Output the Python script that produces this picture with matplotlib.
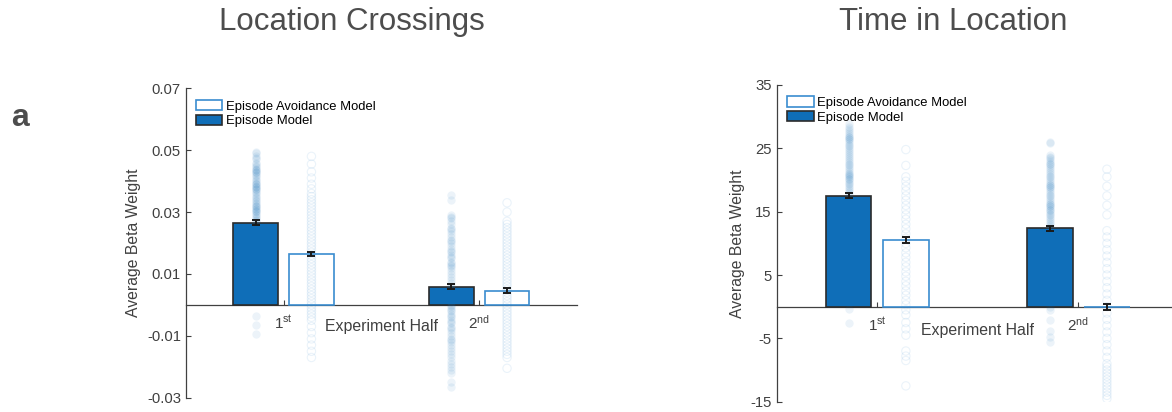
import numpy as np
import matplotlib
matplotlib.use('Agg')
import matplotlib.pyplot as plt

plt.rcParams['font.family'] = ['Liberation Sans', 'DejaVu Sans']
plt.rcParams['mathtext.fontset'] = 'custom'
plt.rcParams['mathtext.rm'] = 'Liberation Sans'

# group positions and labels
halves = [1, 2]
half_labels = [r'$\mathregular{1^{st}}$', r'$\mathregular{2^{nd}}$']

# Location Crossings: bar means and sem
lc_episode = [0.0266, 0.0059]
lc_avoid = [0.0164, 0.0046]
lc_episode_err = [0.0007, 0.0007]
lc_avoid_err = [0.0007, 0.0007]

# Time in Location: bar means and sem
tl_episode = [17.5, 12.35]
tl_avoid = [10.55, -0.1]
tl_episode_err = [0.4, 0.45]
tl_avoid_err = [0.45, 0.5]

# subject betas, Location Crossings
lc_ep1 = [0.0495, 0.049, 0.048, 0.0475, 0.047, 0.046, 0.0455, 0.045, 0.0445, 0.044, 0.0435,
          0.043, 0.0425, 0.042, 0.0415, 0.041, 0.0405, 0.040, 0.0395, 0.039, 0.0385, 0.038,
          0.0375, 0.037, 0.0365, 0.036, 0.0355, 0.035, 0.0345, 0.034, 0.0335, 0.033, 0.0325,
          0.032, 0.0315, 0.031, 0.0305, 0.030, 0.0295, 0.029, 0.0285, 0.028, 0.0275, 0.027,
          0.039, 0.038, 0.0375, 0.032, 0.031, 0.0305, 0.0435, 0.043,
          0.024, 0.021, 0.018, 0.015, 0.012, 0.009, 0.006, 0.003, -0.0035, -0.0065, -0.0095]
lc_av1 = [0.048, 0.0455, 0.043, 0.041, 0.039, 0.0375, 0.036, 0.035, 0.034, 0.033, 0.032, 0.031,
          0.030, 0.029, 0.028, 0.027, 0.026, 0.025, 0.024, 0.023, 0.022, 0.021, 0.020, 0.019,
          0.018, 0.017, 0.016, 0.015, 0.014, 0.013, 0.012, 0.011, 0.010, 0.009, 0.008, 0.007,
          0.006, 0.005, 0.004, 0.003, 0.002, 0.001, 0.000, -0.001, -0.002, -0.003, -0.004,
          -0.005, -0.007, -0.009, -0.011, -0.013, -0.015, -0.017]
lc_ep2 = [0.0355, 0.034, 0.029, 0.0285, 0.028, 0.027, 0.026, 0.025, 0.0245, 0.024, 0.023,
          0.022, 0.021, 0.0205, 0.020, 0.019, 0.018, 0.0175, 0.017, 0.016, 0.0155, 0.015,
          0.014, 0.0135, 0.013, 0.0125, 0.012, 0.011, 0.010, 0.009, 0.008, 0.007, 0.006,
          0.005, 0.004, 0.003, 0.002, 0.001, 0.000, -0.0005, -0.001, -0.0015, -0.002, -0.003,
          -0.0035, -0.004, -0.005, -0.0055, -0.006, -0.007, -0.0075, -0.008, -0.009, -0.010,
          -0.011, -0.0115, -0.012, -0.013, -0.014, -0.015, -0.016, -0.017, -0.018, -0.019,
          -0.020, -0.021, -0.022, -0.025, -0.0265]
lc_av2 = [0.033, 0.030, 0.027, 0.026, 0.025, 0.024, 0.023, 0.022, 0.021, 0.020, 0.019, 0.018,
          0.017, 0.016, 0.015, 0.014, 0.013, 0.012, 0.011, 0.010, 0.009, 0.008, 0.007, 0.006,
          0.005, 0.004, 0.003, 0.002, 0.001, 0.000, -0.001, -0.002, -0.003, -0.004, -0.005,
          -0.006, -0.007, -0.008, -0.009, -0.010, -0.011, -0.012, -0.013, -0.014, -0.015,
          -0.016, -0.017, -0.0205]

# subject betas, Time in Location
tl_ep1 = [28.8, 28.4, 28.0, 27.7, 27.4, 27.1, 26.8, 26.5, 26.2, 25.9, 25.6, 25.3, 25.0, 24.7,
          24.4, 24.1, 23.8, 23.5, 23.2, 22.9, 22.6, 22.3, 22.0, 21.7, 21.4, 21.1, 20.8, 20.5,
          20.2, 19.9, 19.6, 19.3, 19.0, 18.7, 18.4, 18.1, 17.8, 26.8, 26.5, 21.0, 20.6, 20.2,
          16.5, 15.0, 13.0, 11.0, 9.0, 7.0, 5.0, 3.0, 1.0, -0.3, -2.6]
tl_av1 = [24.8, 22.3, 20.5, 19.8, 19.0, 18.3, 17.5, 16.8, 16.0, 15.3, 14.5, 13.8, 13.0, 12.3,
          11.5, 10.8, 10.0, 9.3, 8.5, 7.8, 7.0, 6.3, 5.5, 4.8, 4.0, 3.3, 2.5, 1.8, 1.0, 0.3,
          -0.5, -1.3, -2.5, -3.5, -4.5, -7.0, -7.8, -8.5, -12.5]
tl_ep2 = [26.0, 25.8, 24.0, 23.7, 23.4, 23.1, 22.8, 22.5, 22.2, 21.9, 21.6, 21.3, 21.0, 20.7,
          20.4, 20.1, 19.8, 19.5, 19.2, 18.9, 18.6, 18.3, 18.0, 17.7, 17.4, 17.1, 16.8, 16.5,
          16.2, 15.9, 15.6, 15.3, 15.0, 14.7, 14.4, 14.1, 13.8, 13.5, 13.2, 12.9, 12.6,
          19.2, 18.9, 16.2, 15.9, 15.3, 22.5,
          10.0, 8.0, 6.0, 4.0, 2.0, 0.0, -0.5, -2.1, -3.8, -4.8, -5.5]
tl_av2 = [21.7, 20.5, 19.0, 17.5, 16.0, 14.5, 12.0, 11.0, 10.0, 9.0, 8.0, 7.0, 6.0, 5.0, 4.0,
          3.0, 2.0, 1.0, 0.0, -1.0, -2.0, -3.0, -4.0, -5.0, -6.0, -7.0, -8.0, -9.0, -9.5,
          -10.0, -10.5, -11.0, -11.5, -12.0, -12.5, -13.0, -13.5, -14.0, -14.5]

lc_ticks = [-0.03, -0.01, 0.01, 0.03, 0.05, 0.07]
lc_ticklabels = ['-0.03', '-0.01', '0.01', '0.03', '0.05', '0.07']
tl_ticks = [-15, -5, 5, 15, 25, 35]
tl_ticklabels = ['-15', '-5', '5', '15', '25', '35']

blue = '#0f6eb8'
light_edge = '#3a8cd0'
grey = '#404040'
offset = 0.1425
width = 0.228


def panel(ax, ep, av, ep_err, av_err, ep_pts, av_pts, ylim, ticks, ticklabels, xlab_y, leg_y):
    x = np.array(halves, dtype=float)
    b1 = ax.bar(x - offset, ep, width, color=blue, edgecolor='#2b2b2b', linewidth=1.2,
                zorder=3, label='Episode Model')
    b2 = ax.bar(x + offset, av, width, color='white', edgecolor=light_edge, linewidth=1.2,
                zorder=3, label='Episode Avoidance Model')
    # individual subjects
    for xi, pts in zip(x - offset, ep_pts):
        ax.scatter(np.full(len(pts), xi), pts, s=36, color=blue, alpha=0.08,
                   linewidths=0, zorder=4)
    for xi, pts in zip(x + offset, av_pts):
        ax.scatter(np.full(len(pts), xi), pts, s=36, facecolors='none',
                   edgecolors=light_edge, alpha=0.1, linewidths=0.8, zorder=4)
    ax.errorbar(x - offset, ep, yerr=ep_err, fmt='none', ecolor='#1a1a1a',
                elinewidth=1.4, capsize=2.6, capthick=1.4, zorder=5)
    ax.errorbar(x + offset, av, yerr=av_err, fmt='none', ecolor='#1a1a1a',
                elinewidth=1.4, capsize=2.6, capthick=1.4, zorder=5)

    ax.set_xlim(0.5, 2.5)
    ax.set_ylim(*ylim)
    ax.set_yticks(ticks)
    ax.set_yticklabels(ticklabels)
    ax.set_xticks(halves)
    ax.set_xticklabels(half_labels)
    for s in ['top', 'right']:
        ax.spines[s].set_visible(False)
    ax.spines['bottom'].set_position(('data', 0))
    for s in ['left', 'bottom']:
        ax.spines[s].set_color(grey)
        ax.spines[s].set_linewidth(0.9)
    ax.tick_params(axis='both', direction='in', length=3.5, width=0.8, color=grey,
                   labelcolor=grey)
    ax.tick_params(axis='y', labelsize=10.7, pad=3.5)
    ax.tick_params(axis='x', labelsize=11, pad=6.5)
    ax.set_ylabel('Average Beta Weight', fontsize=11.3, color=grey, labelpad=4)
    ax.text(1.5, xlab_y, 'Experiment Half', ha='center', va='center',
            fontsize=11.4, color=grey)
    ax.legend(handles=[b2, b1], loc='upper left', bbox_to_anchor=(0.025, leg_y),
              frameon=False, fontsize=9.4, handlelength=2.06, handleheight=0.85,
              handletextpad=0.25, labelspacing=0.15, borderpad=0, borderaxespad=0)


fig = plt.figure(figsize=(11.72, 4.12), dpi=100)
ax1 = fig.add_axes([0.1585, 0.0347, 0.3338, 0.751])
ax2 = fig.add_axes([0.6627, 0.025, 0.3431, 0.7687])

panel(ax1, lc_episode, lc_avoid, lc_episode_err, lc_avoid_err, [lc_ep1, lc_ep2],
      [lc_av1, lc_av2], (-0.03, 0.07), lc_ticks, lc_ticklabels, -0.0070, 0.962)
panel(ax2, tl_episode, tl_avoid, tl_episode_err, tl_avoid_err, [tl_ep1, tl_ep2],
      [tl_av1, tl_av2], (-15, 35), tl_ticks, tl_ticklabels, -3.7, 0.964)

fig.text(352 / 1172, 1 - 22 / 412, 'Location Crossings', ha='center', va='center',
         fontsize=22.5, color='#4d4d4d')
fig.text(953 / 1172, 1 - 22 / 412, 'Time in Location', ha='center', va='center',
         fontsize=22.5, color='#4d4d4d')
fig.text(20 / 1172, 1 - 118 / 412, 'a', ha='center', va='center', fontsize=23,
         fontweight='bold', color='#4d4d4d')

fig.savefig('out.png', dpi=100)
